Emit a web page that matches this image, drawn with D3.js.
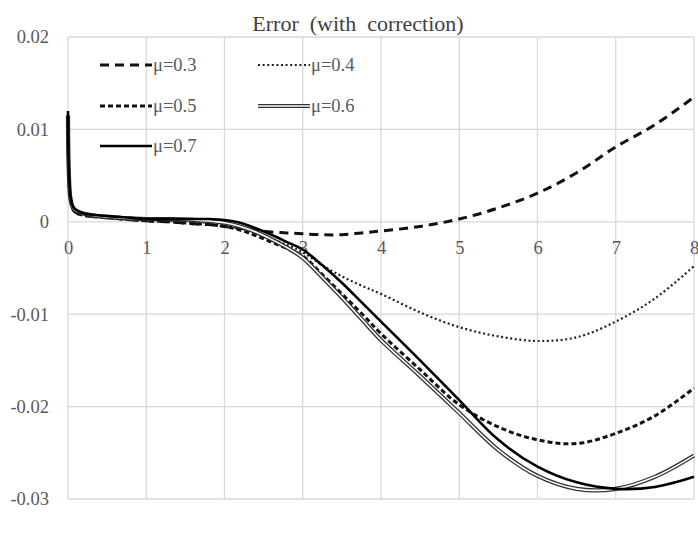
<!DOCTYPE html>
<html><head><meta charset="utf-8">
<script src="https://cdn.jsdelivr.net/npm/d3@7"></script>
<style>body{margin:0;background:#fff}svg{display:block}</style>
</head><body>
<svg id="c" width="698" height="555"></svg>
<script>
const title = "Error  (with  correction)";
const xTicks = [0,1,2,3,4,5,6,7,8];
const yTicks = [-0.03,-0.02,-0.01,0,0.01,0.02];
const yTickLabels = ["-0.03","-0.02","-0.01","0","0.01","0.02"];
const xs = [0,0.01,0.03,0.06,0.1,0.2,0.4,0.7,1,1.3,1.6,1.8,2,2.2,2.4,2.6,2.8,3,3.25,3.5,3.75,4,4.5,5,5.5,6,6.5,7,7.5,8];
const mu03 = [0.0095,0.005,0.0024,0.0014,0.001,0.0007,0.0005,0.0003,0.0001,0.0,-0.0002,-0.0003,-0.0005,-0.0007,-0.0009,-0.0011,-0.0012,-0.0013,-0.0014,-0.0014,-0.0012,-0.001,-0.0005,0.0003,0.0015,0.0031,0.0053,0.0081,0.0105,0.0135];
const mu04 = [0.0105,0.005,0.0025,0.0015,0.0011,0.0008,0.0006,0.0004,0.0002,0.0001,0.0,-0.0001,-0.0003,-0.0007,-0.0012,-0.0018,-0.0025,-0.0033,-0.0047,-0.0059,-0.0069,-0.0078,-0.0098,-0.0114,-0.0124,-0.0129,-0.0125,-0.0108,-0.0083,-0.0048];
const mu05 = [0.011,0.0052,0.0025,0.0014,0.001,0.0007,0.0005,0.0003,0.0001,0.0,-0.0002,-0.0003,-0.0005,-0.0009,-0.0015,-0.0022,-0.0029,-0.0037,-0.0057,-0.0078,-0.0099,-0.0121,-0.016,-0.0198,-0.0222,-0.0236,-0.024,-0.0229,-0.021,-0.018];
const mu06 = [0.0115,0.0055,0.0026,0.0016,0.0012,0.0009,0.0006,0.0004,0.0003,0.0003,0.0002,0.0001,-0.0001,-0.0005,-0.0011,-0.0019,-0.0028,-0.0039,-0.006,-0.0082,-0.0105,-0.0128,-0.0167,-0.0207,-0.0247,-0.0275,-0.0289,-0.0289,-0.0276,-0.0253];
const mu07 = [0.012,0.0058,0.0028,0.0017,0.0013,0.0009,0.0007,0.0005,0.0003,0.0003,0.0003,0.0003,0.0002,-0.0001,-0.0007,-0.0014,-0.0022,-0.003,-0.0047,-0.0066,-0.0087,-0.0108,-0.015,-0.0193,-0.0236,-0.0265,-0.0282,-0.0289,-0.0287,-0.0276];
const seriesNames = ["μ=0.3","μ=0.4","μ=0.5","μ=0.6","μ=0.7"];

const series = [
  {name: seriesNames[0], vals: mu03, style: "longdash"},
  {name: seriesNames[1], vals: mu04, style: "dot"},
  {name: seriesNames[2], vals: mu05, style: "dash"},
  {name: seriesNames[3], vals: mu06, style: "double"},
  {name: seriesNames[4], vals: mu07, style: "solid"}
];

const svg = d3.select("#c");
const L = 68, R = 694, T = 37, B = 499;
const x = d3.scaleLinear().domain([0,8]).range([L,R]);
const y = d3.scaleLinear().domain([-0.03,0.02]).range([B,T]);
const font = "'Liberation Serif', 'Times New Roman', serif";

// grid
svg.append("g").selectAll("line").data(xTicks).join("line")
  .attr("x1", d=>x(d)).attr("x2", d=>x(d)).attr("y1", T).attr("y2", B)
  .attr("stroke", "#d9d9d9").attr("stroke-width", 1.3);
svg.append("g").selectAll("line").data(yTicks).join("line")
  .attr("x1", L).attr("x2", R).attr("y1", d=>y(d)).attr("y2", d=>y(d))
  .attr("stroke", "#d9d9d9").attr("stroke-width", 1.3);

// axes (labels only)
const yAxis = d3.axisLeft(y).tickValues(yTicks).tickFormat((d,i)=>yTickLabels[i]).tickSize(0).tickPadding(19);
const gy = svg.append("g").attr("transform", `translate(${L},0)`).call(yAxis);
gy.select(".domain").remove();
gy.attr("font-family", null).attr("font-size", null);
gy.selectAll("text").style("font-family", font).style("font-size", "18.5px").attr("fill", "#595959");

const xAxis = d3.axisBottom(x).tickValues(xTicks).tickFormat(d3.format("d")).tickSize(0).tickPadding(19);
const gx = svg.append("g").attr("transform", `translate(0,${y(0)})`).call(xAxis);
gx.select(".domain").remove();
gx.attr("font-family", null).attr("font-size", null);
gx.selectAll("text").style("font-family", font).style("font-size", "18.5px").attr("fill", "#595959");

// title
svg.append("text").attr("x", 358).attr("y", 31).attr("text-anchor", "middle")
  .style("font-family", font).style("font-size", "22px").attr("fill", "#404040")
  .style("white-space", "pre").text(title);

const line = d3.line().x((d,i)=>x(xs[i])).y(d=>y(d)).curve(d3.curveCatmullRom.alpha(0.5));

function styleLine(sel, style) {
  if (style === "longdash") sel.attr("stroke", "#111").attr("stroke-width", 3).attr("stroke-dasharray", "9,6");
  else if (style === "dot") sel.attr("stroke", "#222").attr("stroke-width", 2.2).attr("stroke-dasharray", "2,2.6");
  else if (style === "dash") sel.attr("stroke", "#111").attr("stroke-width", 3).attr("stroke-dasharray", "5,3");
  else if (style === "solid") sel.attr("stroke", "#000").attr("stroke-width", 2.6);
}

const plot = svg.append("g");
series.forEach(s => {
  if (s.style === "double") {
    plot.append("path").attr("d", line(s.vals)).attr("fill", "none").attr("stroke", "#333").attr("stroke-width", 4.2);
    plot.append("path").attr("d", line(s.vals)).attr("fill", "none").attr("stroke", "#fff").attr("stroke-width", 1.6);
  } else {
    plot.append("path").attr("d", line(s.vals)).attr("fill", "none").call(styleLine, s.style);
  }
});

// legend
const legPos = [[100,65],[258,65],[100,106],[258,106],[100,146]];
series.forEach((s,i) => {
  const [lx, ly] = legPos[i];
  const g = svg.append("g");
  const seg = [[lx,ly],[lx+52,ly]];
  const ll = d3.line();
  if (s.style === "double") {
    g.append("path").attr("d", ll(seg)).attr("stroke", "#333").attr("stroke-width", 4.2);
    g.append("path").attr("d", ll(seg)).attr("stroke", "#fff").attr("stroke-width", 1.6);
  } else {
    g.append("path").attr("d", ll(seg)).call(styleLine, s.style);
  }
  g.append("text").attr("x", lx+53).attr("y", ly).attr("dy", "0.35em")
    .style("font-family", font).style("font-size", "18.5px").attr("fill", "#595959").text(s.name);
});
</script>
</body></html>
